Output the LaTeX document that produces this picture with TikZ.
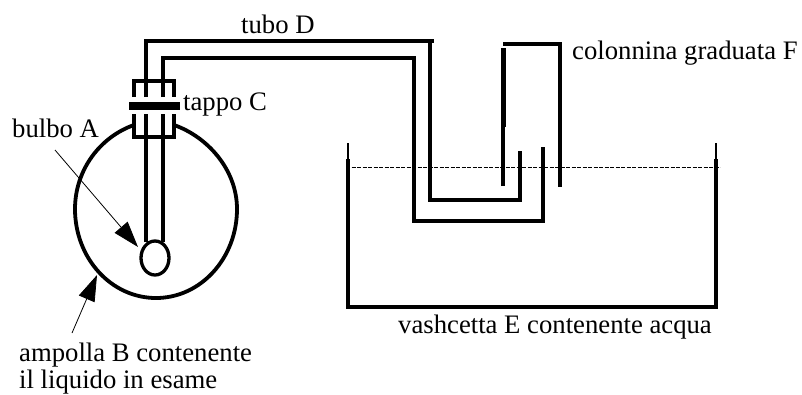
\documentclass[tikz,border=0pt]{standalone}
\usepackage{fontspec}
\setmainfont{Liberation Serif}
\usetikzlibrary{arrows.meta}
\tikzset{
  tube/.style={line width=3.3pt,line join=miter,line cap=butt},
  lbl/.style={inner sep=0pt,anchor=base west,font=\fontsize{26.7}{30}\selectfont},
  pointer/.style={line width=0.8pt,-{Triangle[length=26pt,width=17pt]}}
}
\begin{document}
\begin{tikzpicture}[x=1pt,y=-1pt]
\useasboundingbox (0,0) rectangle (802,394);
% ampolla
\draw[line width=3.8pt] (134,125) .. controls (100,137) and (75,170) .. (75,209)
  .. controls (75,258) and (111,298) .. (156,298)
  .. controls (201,298) and (237,258) .. (237,209)
  .. controls (237,170) and (208,137) .. (174,125);
% tappo
\draw[tube] (134,97) -- (134,81) -- (174,81) -- (174,97);
\draw[tube] (134,114) -- (134,137) -- (174,137) -- (174,114);
\fill (129,102) rectangle (180,110);
% tubo
\draw[tube] (146,242) -- (146,114);
\draw[tube] (163,242) -- (163,114);
\draw[tube] (146,97) -- (146,41) -- (434,41);
\draw[tube] (163,97) -- (163,58) -- (414,58) -- (414,221) -- (543,221) -- (543,147);
\draw[tube] (430,41) -- (430,200) -- (520,200) -- (520,151);
% bulbo
\draw[line width=3.3pt] (155,258) ellipse [x radius=14,y radius=17];
% colonnina
\draw[tube] (503,186) -- (503,127);
\draw[line width=5pt] (503.5,127) -- (503.5,48);
\draw[tube] (503,44) -- (560,44) -- (560,187);
% vaschetta
\draw[line width=2pt] (348,143) -- (348,160);
\draw[line width=2pt] (716,143) -- (716,160);
\draw[line width=3.8pt] (348,159) -- (348,307) -- (716,307) -- (716,159);
\draw[line width=0.7pt,dash pattern=on 4pt off 1.5pt] (346,167) -- (720,167);
% testi
\node[lbl] (d) at (241,33) {tubo D};
\node[lbl] (f) at (572,59) {colonnina graduata F};
\node[lbl] (c) at (183,110) {tappo C};
\node[lbl] (a) at (12,137) {bulbo A};
\node[lbl] (e) at (398,333) {vashcetta E contenente acqua};
\node[lbl] (b1) at (19,361) {ampolla B contenente};
\node[lbl] (b2) at (19,388) {il liquido in esame};
\coordinate (pa) at (55,150);
\coordinate (ta) at (138,247);
\coordinate (pb) at (72,333);
\coordinate (tb) at (97,275);
\draw[pointer] (pa) -- (ta);
\draw[pointer] (pb) -- (tb);
\end{tikzpicture}
\end{document}
